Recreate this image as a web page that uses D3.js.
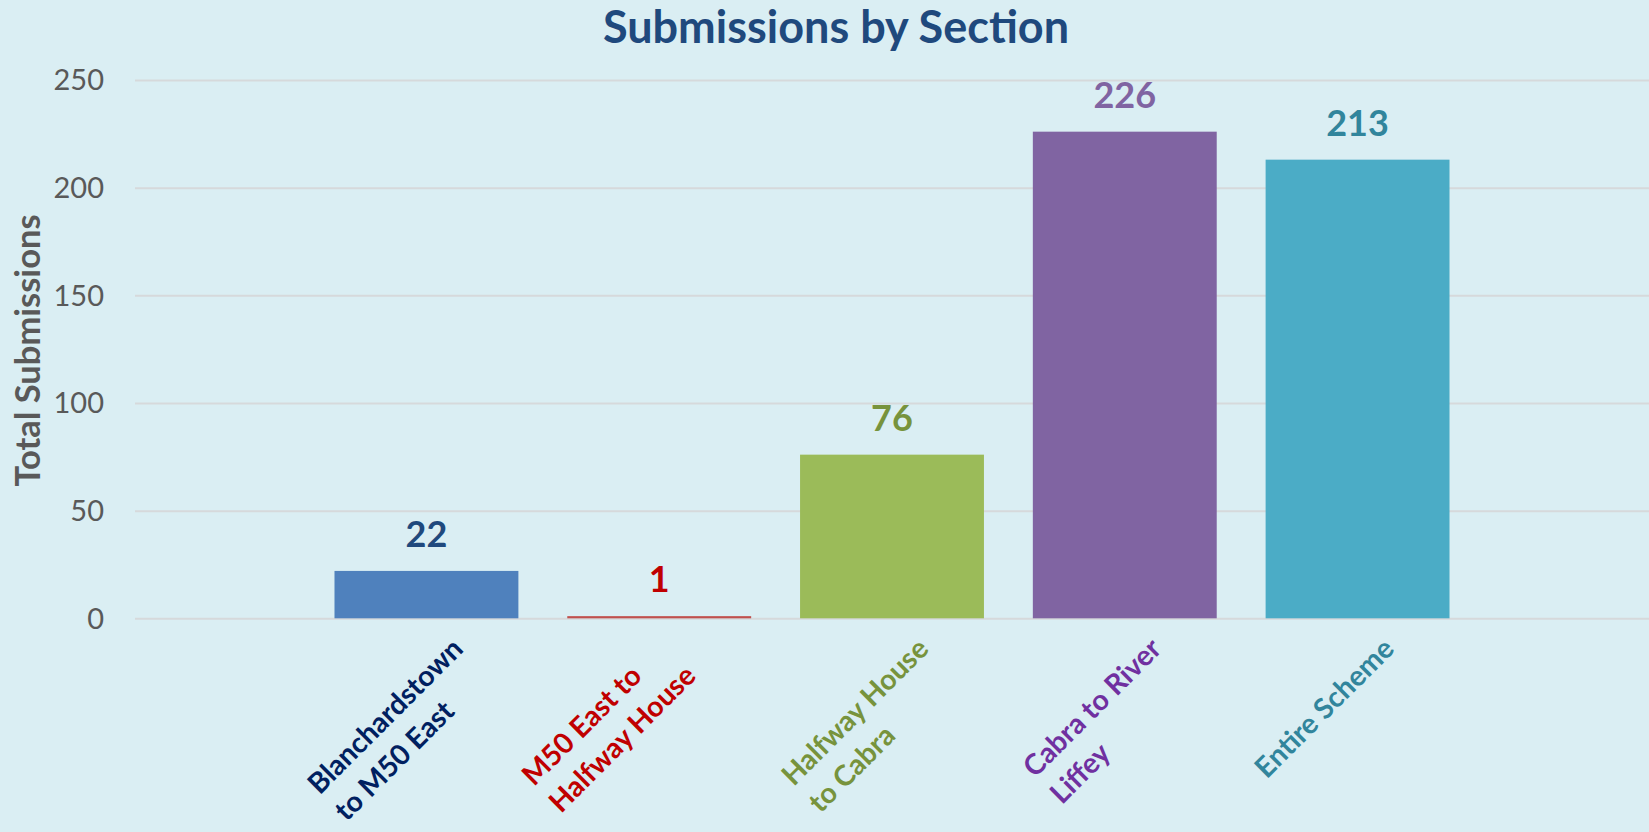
<!DOCTYPE html>
<html>
<head>
<meta charset="utf-8">
<script src="https://cdn.jsdelivr.net/npm/d3@7"></script>
<style>
    html, body { margin: 0; padding: 0; background: #DAEEF3; overflow: hidden; }
    svg { display: block; font-family: Lato, 'Open Sans', sans-serif; }
</style>
</head>
<body>
<div class="chart-holder"></div>
<script>
(function () {

    'use strict';

    // chart values
    var categories = ['Blanchardstown to M50 East', 'M50 East to Halfway House', 'Halfway House to Cabra', 'Cabra to River Liffey', 'Entire Scheme'];
    var categoryLines = [['Blanchardstown', 'to M50 East'], ['M50 East to', 'Halfway House'], ['Halfway House', 'to Cabra'], ['Cabra to River', 'Liffey'], ['Entire Scheme']];
    var submissions = [22, 1, 76, 226, 213];
    var yTicks = [0, 50, 100, 150, 200, 250];

    var barColors = ['#4F81BD', '#C0504D', '#9BBB59', '#8064A2', '#4BACC6'];
    var valueColors = ['#1F497D', '#C00000', '#77933C', '#8064A2', '#31859C'];
    var labelColors = ['#002060', '#C00000', '#77933C', '#7030A0', '#31859C'];

    var width = 1649;
    var height = 832;

    var margin = {top: 80, right: 0, bottom: 832 - 618.3, left: 135};

    var drawChart = function () {

        var svg = d3.select('.chart-holder')
            .append('svg')
                .attr('width', width)
                .attr('height', height);

        svg.append('rect')
            .attr('width', width)
            .attr('height', height)
            .attr('fill', '#DAEEF3');

        var x = d3.scaleBand()
            .domain(categories)
            .range([margin.left, width - margin.right])
            .paddingInner(0.21)
            .paddingOuter(0.857);

        var y = d3.scaleLinear()
            .domain([0, 250])
            .range([height - margin.bottom, margin.top]);

        // gridlines + tick labels
        var yAxis = d3.axisLeft(y)
            .tickValues(yTicks)
            .tickSize(-(width - margin.left - margin.right))
            .tickPadding(31);

        var axisG = svg.append('g')
            .attr('transform', 'translate(' + margin.left + ',0)')
            .call(yAxis)
            .attr('font-family', null)
            .attr('font-size', null);

        axisG.select('.domain').remove();
        axisG.selectAll('.tick line')
            .attr('stroke', '#D6D9DB')
            .attr('stroke-width', 2);
        axisG.selectAll('.tick text')
            .attr('fill', '#595959')
            .attr('font-size', '29px')
            .attr('dy', '0.34em');

        // bars
        svg.append('g')
            .selectAll('rect')
            .data(submissions)
            .enter()
            .append('rect')
                .attr('x', function (d, i) { return x(categories[i]); })
                .attr('y', function (d) { return y(d); })
                .attr('width', x.bandwidth())
                .attr('height', function (d) { return y(0) - y(d); })
                .attr('fill', function (d, i) { return barColors[i]; });

        // value labels
        svg.append('g')
            .selectAll('text')
            .data(submissions)
            .enter()
            .append('text')
                .attr('x', function (d, i) { return x(categories[i]) + x.bandwidth() / 2; })
                .attr('y', function (d) { return y(d) - 24; })
                .attr('text-anchor', 'middle')
                .attr('font-size', '36px')
                .attr('font-weight', 'bold')
                .attr('fill', function (d, i) { return valueColors[i]; })
                .text(function (d) { return d; });

        // category labels, rotated -45, lines left aligned
        var labelFont = 28.5;
        var lineH = 38;
        var xh = 0.507 * labelFont;
        var c45 = Math.SQRT1_2;

        categories.forEach(function (cat, i) {

            var g = svg.append('g');
            var text = g.append('text')
                .attr('font-size', labelFont + 'px')
                .attr('font-weight', 'bold')
                .attr('fill', labelColors[i]);

            var widths = categoryLines[i].map(function (line, j) {
                var t = text.append('tspan')
                    .attr('x', 0)
                    .attr('y', j * lineH)
                    .text(line);
                return t.node().getComputedTextLength();
            });

            var w = d3.max(widths);
            var iMax = widths.indexOf(w);
            var cx = x(cat) + x.bandwidth() / 2;

            // right end of the longest line sits just right of the tick
            var ox = cx + 28 - c45 * (w + iMax * lineH - xh);
            var oy = y(0) + 22 + c45 * (xh + w);

            g.attr('transform', 'translate(' + ox + ',' + oy + ') rotate(-45)');
        });

        // y axis title
        svg.append('text')
            .attr('transform', 'translate(40,350.5) rotate(-90)')
            .attr('text-anchor', 'middle')
            .attr('font-size', '34.5px')
            .attr('font-weight', 'bold')
            .attr('fill', '#595959')
            .text('Total Submissions');

        // title
        svg.append('text')
            .attr('x', 836)
            .attr('y', 43)
            .attr('text-anchor', 'middle')
            .attr('font-size', '45px')
            .attr('font-weight', 'bold')
            .attr('fill', '#1F497D')
            .text('Submissions by Section');

    };

    drawChart();

}());
</script>
</body>
</html>
